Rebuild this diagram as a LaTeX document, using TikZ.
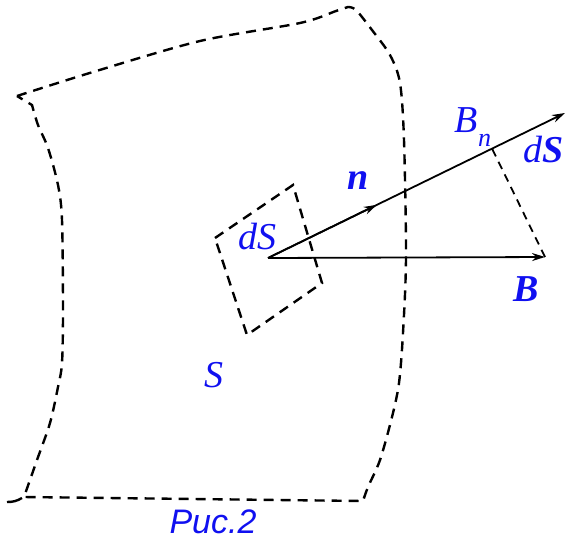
\documentclass[tikz,border=0pt]{standalone}
\usepackage{fontspec}
\setmainfont{Liberation Serif}
\newfontfamily\capfont{Liberation Sans}
\usetikzlibrary{arrows.meta,calc}
\definecolor{LabelBlue}{HTML}{1010F0}
\tikzset{
  outline/.style={line width=2.4pt, dash pattern=on 10pt off 7pt},
  vec/.style={-{Stealth[length=13pt,width=8pt]}, line width=1.8pt},
  label/.style={text=LabelBlue, inner sep=0pt, font=\fontsize{38}{40}\selectfont\itshape},
  boldlabel/.style={label, font=\fontsize{38}{40}\selectfont\bfseries\itshape}
}
\begin{document}
\begin{tikzpicture}[x=1pt,y=-1pt]
  \useasboundingbox (0,0) rectangle (568,542);
  % surface S
  \draw[outline] plot[smooth] coordinates {(17,96) (93,72) (200,41) (300,23) (336,11) (348,7)}
    -- plot[smooth] coordinates {(348,7) (356,10) (372,30) (390,55) (400,83) (404,140) (406,257)
       (403,333) (399,383) (392,417) (380,460) (368,487) (363,501)}
    -- (24,497)
    -- plot[smooth] coordinates {(24,497) (37,460) (50,423) (58,387) (62,363) (63,310) (62,220)
       (58,185) (48,148) (38,125) (32,105)}
    -- cycle;
  \draw[line width=2.4pt] (22,498) to[bend left=15] (7,502);
  % element dS
  \draw[outline] (215,238) -- (293,185) -- (322,283) -- (247,335) -- cycle;
  % vectors
  \coordinate (O) at (268,258);
  \coordinate (dStip) at (565,113);
  \coordinate (Btip) at (545,257);
  \coordinate (ntip) at ($(O)!0.3665!(dStip)$);
  \coordinate (Bfoot) at ($(O)!(Btip)!(dStip)$);
  \draw[vec] (O) -- (dStip);
  \draw[vec] (O) -- (ntip);
  \draw[vec] (O) -- (Btip);
  \draw[outline, line width=1.8pt, dash pattern=on 8pt off 6pt] (Btip) -- (Bfoot);
  % labels
  \node[boldlabel] (nlab) at (358,181) {n};
  \node[label] (dSsmall) at (257,237) {dS};
  \node[label] (Bn) at (473,127) {B\raisebox{-0.35em}{\fontsize{26}{28}\selectfont n}};
  \node[label] (dSlab) at (544,150) {d\textbf{S}};
  \node[boldlabel] (Blab) at (526,289) {B};
  \node[label] (Slab) at (214,375) {S};
  \node[text=LabelBlue, inner sep=0pt, anchor=base, font=\capfont\fontsize{34}{36}\selectfont\itshape] (cap) at (213,533) {Рис.2};
\end{tikzpicture}
\end{document}
